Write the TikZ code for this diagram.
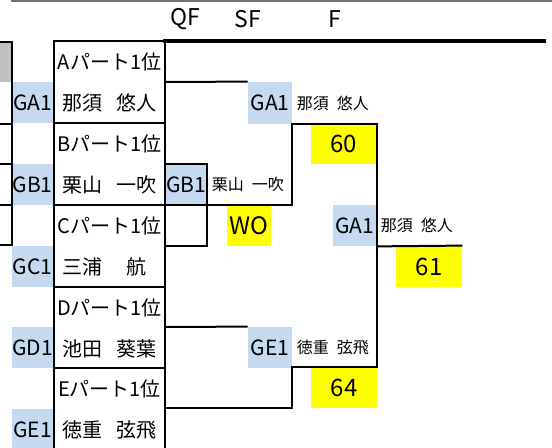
\documentclass[tikz,border=0pt]{standalone}
\usepackage{fontspec}
\setmainfont{Noto Sans CJK JP}
\usetikzlibrary{positioning}
\definecolor{cellblue}{RGB}{197,217,241}
\definecolor{cellgray}{RGB}{191,191,191}
\definecolor{scoreyellow}{RGB}{255,255,0}
\tikzset{
  gcell/.style={fill=cellblue, inner sep=0pt, minimum height=20.5pt, font=\fontsize{10.5}{12}\selectfont},
  score/.style={fill=scoreyellow, inner sep=0pt, minimum height=20.5pt, font=\fontsize{12}{14}\selectfont},
  pname/.style={inner sep=2pt, font=\fontsize{8}{10}\selectfont},
  part/.style={inner sep=0pt, font=\fontsize{10}{12}\selectfont},
  bline/.style={line width=1pt},
}

\begin{document}
\begin{tikzpicture}[x=0.5pt,y=-0.5pt]
\useasboundingbox (0,0) rectangle (552,448);
% Headers
\foreach \x/\round in {185/QF,248/SF,335/F}
  \node[font=\fontsize{11.5}{13}\selectfont] (h\round) at (\x,19) {\round};
% Left strip
\fill[cellgray] (0,42) rectangle (12,82);
\foreach \y/\g in {103/A,184.5/B,266.5/C,348/D,430/E}
  \node[gcell, minimum width=20.5pt] (seed\g) at (32.5,\y) {G\g1};
% Part winners
\foreach \p/\y/\first/\last in {A/62/那須/悠人,B/144/栗山/一吹,C/225.5/三浦/{航\hspace{5pt}},D/307.5/池田/葵葉,E/389/徳重/弦飛} {
  \node[part] (part\p) at (109.5,\y) {\p パート1位};
  \node[part] (name\p) at (109.5,\y+41) {\hbox to 47pt{\first\hfill\last}};
}
% Bracket cells
\node[gcell, minimum width=22pt, minimum height=21pt] (sfA) at (270,103) {GA1};
\node[pname, right=0pt of sfA] (sfAname) {那須\enspace 悠人};
\node[gcell, minimum width=21pt] (qfB) at (186,184.5) {GB1};
\node[pname, right=0pt of qfB] (qfBname) {栗山\enspace 一吹};
\node[score, minimum width=22pt] (scoreWO) at (249,225.5) {WO};
\node[score, minimum width=32.5pt] (score60) at (343.5,144) {60};
\node[gcell, minimum width=21.5pt] (fA) at (354.5,225.5) {GA1};
\node[pname, right=0pt of fA] (fAname) {那須\enspace 悠人};
\node[score, minimum width=33pt] (score61) at (429,266.5) {61};
\node[gcell, minimum width=22pt] (sfE) at (270,347.5) {GE1};
\node[pname, right=0pt of sfE] (sfEname) {徳重\enspace 弦飛};
\node[score, minimum width=33pt] (score64) at (344,388) {64};
% Top rules
\draw[line width=1pt, black!55] (11,1) -- (552,1);
\draw[line width=1.7pt] (163,41) -- (546,41);
% Left strip lines
\draw[bline] (0,42) -- (12,42) -- (12,245) -- (0,245);
\foreach \y in {124,164,205}
  \draw[bline] (0,\y) -- (12,\y);
% Main box
\draw[bline] (54,450) -- (54,41) -- (165,41) -- (165,450);
\foreach \y in {123,205,287,368}
  \draw[bline] (54,\y) -- (165,\y);
% Bracket lines
\draw[bline] (165,82) -- (sfA.north west);
\draw[bline] (qfB.north west) -- (qfB.north east) |- (165,246);
\draw[bline] (165,205) -| (sfA.south east) -| (score64.north east) -| (sfE.south east) |- (165,408);
\draw[bline] (fA.south east) -- (score61.north east);
\draw[bline] (165,327) -- (sfE.north west);
\end{tikzpicture}
\end{document}
